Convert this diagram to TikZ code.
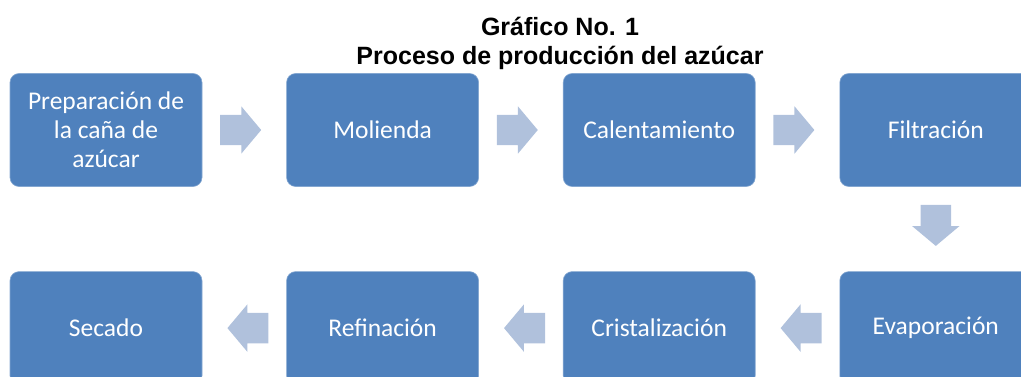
\documentclass[tikz,border=0pt]{standalone}
\usepackage{fontspec}
\setmainfont{Carlito}
\newfontfamily\titlefont{Liberation Sans}
\usepackage{tikz}
\usetikzlibrary{calc,positioning,shapes.arrows}
\definecolor{boxblue}{RGB}{79,129,189}
\definecolor{arrowblue}{RGB}{176,193,220}
\tikzset{
    % Process step (Office blue)
    stepbox/.style={
        rounded corners=9pt, fill=boxblue, draw=boxblue!70!white, line width=0.6pt,
        minimum width=192pt, minimum height=113pt, inner sep=4pt,
        text=white, align=center, font=\fontsize{25.5}{29}\selectfont
    },
    % Block arrow between steps (#1 = direction)
    flowarrow/.style={
        single arrow, fill=arrowblue, draw=none,
        minimum height=41pt, inner xsep=0pt, inner ysep=15pt,
        single arrow head extend=8.5pt, single arrow tip angle=100,
        rotate=#1, xshift=-10pt
    },
    flowarrow/.default=0,
}
\begin{document}
\begin{tikzpicture}[x=1pt,y=1pt]
  \useasboundingbox (0,0) rectangle (1021,376);
  \clip (0,0) rectangle (1021,376);
  \node[font=\titlefont\bfseries\fontsize{25}{29}\selectfont,align=center] (title) at (560,333)
    {Gráfico No. 1\\Proceso de producción del azúcar};
  % first row, left to right
  \node[stepbox] (prep) at (106,246) {Preparación de\\la caña de\\azúcar};
  \node[stepbox,right=84pt of prep] (mol) {Molienda};
  \node[stepbox,right=84pt of mol] (cal) {Calentamiento};
  \node[stepbox,right=84pt of cal] (fil) {Filtración};
  % second row, right to left
  \node[stepbox,below=84.5pt of fil] (eva) {Evaporación};
  \node[stepbox,left=84pt of eva] (cri) {Cristalización};
  \node[stepbox,left=84pt of cri] (ref) {Refinación};
  \node[stepbox,left=84pt of ref] (sec) {Secado};
  % arrows
  \node[flowarrow] (a1) at ($(prep.east)!0.5!(mol.west)$) {};
  \node[flowarrow] (a2) at ($(mol.east)!0.5!(cal.west)$) {};
  \node[flowarrow] (a3) at ($(cal.east)!0.5!(fil.west)$) {};
  \node[flowarrow=-90] (a4) at ($(fil.south)!0.5!(eva.north)$) {};
  \node[flowarrow=180] (a5) at ($(eva.west)!0.5!(cri.east)$) {};
  \node[flowarrow=180] (a6) at ($(cri.west)!0.5!(ref.east)$) {};
  \node[flowarrow=180] (a7) at ($(ref.west)!0.5!(sec.east)$) {};
\end{tikzpicture}
\end{document}
